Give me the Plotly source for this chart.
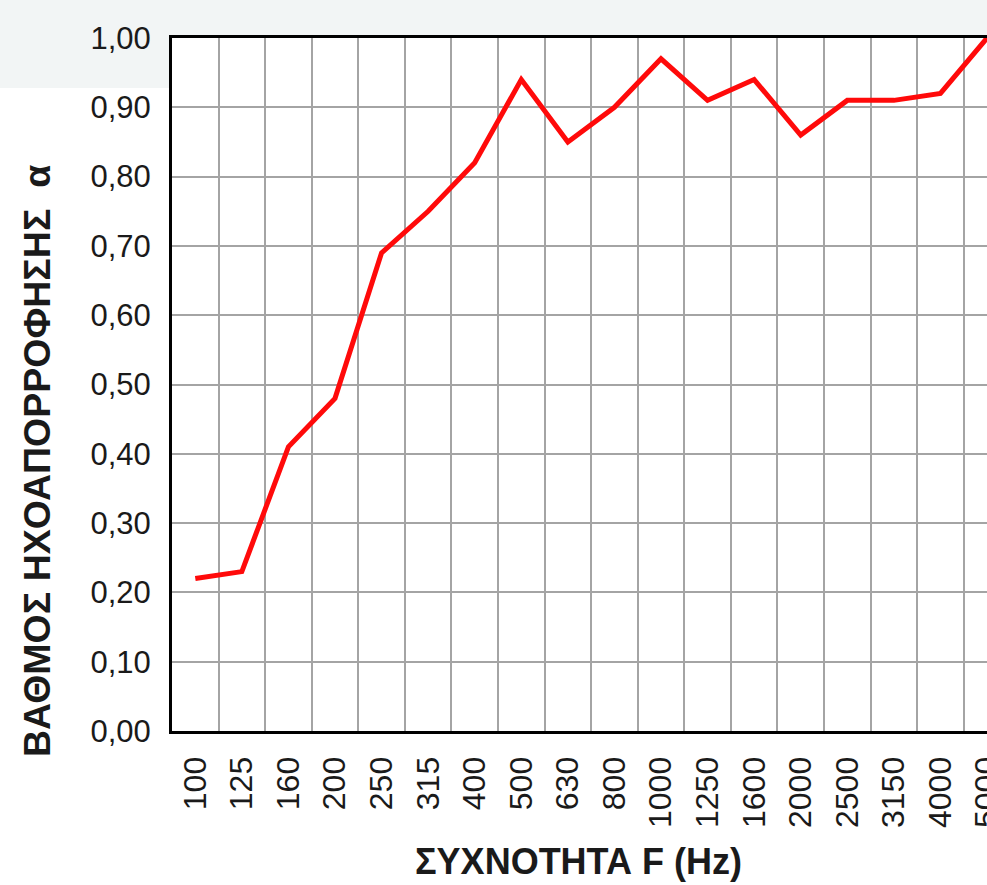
import plotly.graph_objects as go

frequencies = ["100", "125", "160", "200", "250", "315", "400", "500", "630",
               "800", "1000", "1250", "1600", "2000", "2500", "3150", "4000", "5000"]
absorption = [0.22, 0.23, 0.41, 0.48, 0.69, 0.75, 0.82, 0.94, 0.85,
              0.90, 0.97, 0.91, 0.94, 0.86, 0.91, 0.91, 0.92, 1.00]
y_ticks = [0.0, 0.1, 0.2, 0.3, 0.4, 0.5, 0.6, 0.7, 0.8, 0.9, 1.0]

x_title = "ΣΥΧΝΟΤΗΤΑ F (Hz)"
y_title = "ΒΑΘΜΟΣ ΗΧΟΑΠΟΡΡΟΦΗΣΗΣ  α"

W, H = 987, 885
L, T, R, B = 172, 38, 0, 154
PW, PH = W - L - R, H - T - B

fig = go.Figure()
fig.add_trace(go.Scatter(
    x=frequencies, y=absorption, mode="lines",
    line=dict(color="#ff0a0a", width=5), hoverinfo="x+y",
))

grid_col = "#a4a4a4"
tick_font = dict(family="Liberation Sans, Arial, sans-serif", size=31, color="#1a1a1a")
title_font_family = "Liberation Sans, Arial, sans-serif"

fig.update_layout(
    width=W, height=H, autosize=False,
    margin=dict(l=L, r=R, t=T, b=B, pad=0, autoexpand=False),
    paper_bgcolor="white", plot_bgcolor="white",
    separators=",.",
    showlegend=False,
    xaxis=dict(
        type="category", range=[-0.5, 17.0], automargin=False,
        tickson="boundaries", ticks="", showgrid=True,
        gridcolor=grid_col, gridwidth=1.5,
        showline=True, linecolor="black", linewidth=3, mirror=True,
        tickangle=-90, tickfont=dict(tick_font, size=32), ticklabelstandoff=10,
        zeroline=False,
    ),
    yaxis=dict(
        range=[0, 1.0], tickvals=y_ticks, tickformat=".2f", automargin=False,
        ticks="", showgrid=True, gridcolor=grid_col, gridwidth=1.5,
        showline=True, linecolor="black", linewidth=3, mirror=False,
        tickfont=tick_font, ticklabelstandoff=12, zeroline=False,
    ),
    shapes=[
        dict(type="rect", xref="paper", yref="paper", x0=-L / PW, x1=1.0,
             y0=1.0, y1=1 + T / PH, fillcolor="#f2f5f5", line_width=0, layer="below"),
        dict(type="rect", xref="paper", yref="paper", x0=-L / PW, x1=0,
             y0=1 - 50 / PH, y1=1.0, fillcolor="#f2f5f5", line_width=0, layer="below"),
    ],
    annotations=[
        dict(text=x_title, xref="paper", yref="paper",
             x=(578 - L) / PW, y=-(861 - (H - B)) / PH,
             xanchor="center", yanchor="middle", showarrow=False,
             font=dict(family=title_font_family, size=36, weight="bold", color="#1a1a1a")),
        dict(text=y_title, xref="paper", yref="paper",
             x=-(L - 37) / PW, y=1 - (461 - T) / PH,
             xanchor="center", yanchor="middle", showarrow=False, textangle=-90,
             font=dict(family=title_font_family, size=37.5, weight="bold", color="#1a1a1a")),
    ],
)

fig.write_html(
    "out.html",
    config={"responsive": False, "displayModeBar": False},
    post_script=(
        "document.body.style.margin='0px';document.body.style.padding='0px';"
        "document.body.style.overflow='hidden';"
        "document.documentElement.style.overflow='hidden';"
    ),
)
